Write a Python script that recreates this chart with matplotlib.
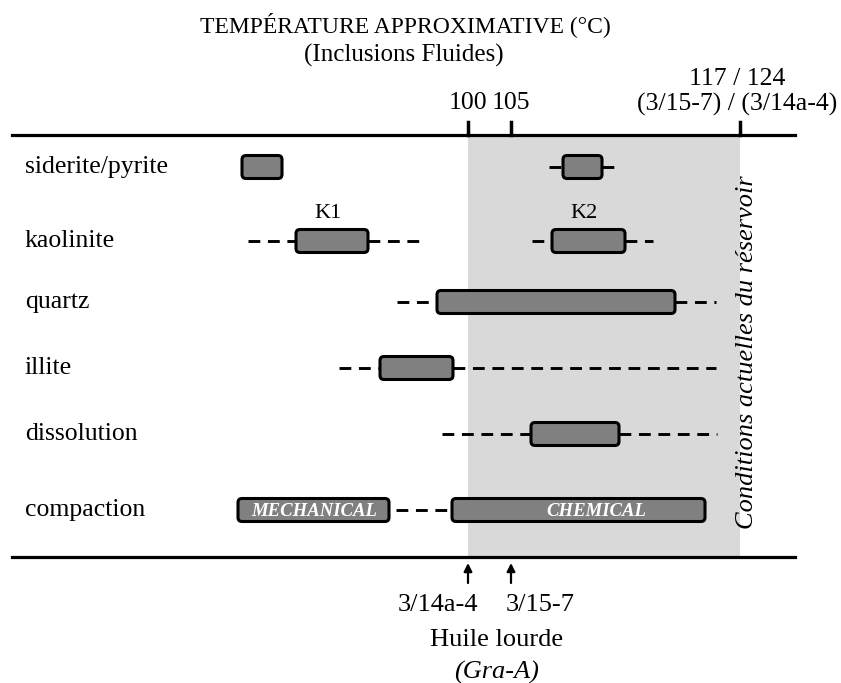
import matplotlib.pyplot as plt
from matplotlib.patches import FancyBboxPatch, Rectangle

plt.rcParams['font.family'] = ['Liberation Serif', 'DejaVu Serif']
plt.rcParams['lines.scale_dashes'] = False

# phases, top to bottom
phases = ['siderite/pyrite', 'kaolinite', 'quartz', 'illite', 'dissolution', 'compaction']
row_y = [167, 241, 302, 368, 434, 510]

# bars per phase: (start, end, dashed extent left, dashed extent right, inner label)
bars = {
    'siderite/pyrite': [(242, 282, None, None, ''), (563, 602, 549, 616, '')],
    'kaolinite': [(296, 368, 248, 425, ''), (552, 625, 532, 653, '')],
    'quartz': [(437, 675, 397, 716, '')],
    'illite': [(380, 453, 339, 716, '')],
    'dissolution': [(531, 619, 442, 717, '')],
    'compaction': [(238, 389, None, None, 'MECHANICAL'), (452, 705, 396, None, 'CHEMICAL')],
}
label_shift = {'MECHANICAL': 1, 'CHEMICAL': 18}
kaol_tags = ['K1', 'K2']

t_ticks = [468, 511, 740]          # 100, 105, 117/124
t_labels = ['100', '105']
wells = ['3/14a-4', '3/15-7']

x0, x1 = 12, 795
y_top, y_bot = 135, 557
bar_h = 23

fig = plt.figure(figsize=(8.41, 6.83), dpi=100)
ax = fig.add_axes([0, 0, 1, 1])
ax.set_xlim(0, 841)
ax.set_ylim(683, 0)
ax.axis('off')

# present-day reservoir window
ax.add_patch(Rectangle((t_ticks[0], y_top), t_ticks[2] - t_ticks[0], y_bot - y_top,
                       facecolor='#d9d9d9', edgecolor='none', zorder=0))
ax.plot([x0, x1], [y_top, y_top], color='black', lw=2.3, zorder=3)
ax.plot([x0, x1], [y_bot, y_bot], color='black', lw=2.3, zorder=3)
for tx in t_ticks:
    ax.plot([tx, tx], [y_top - 13, y_top], color='black', lw=2.5, zorder=3)

dash = dict(color='black', lw=2.1, linestyle=(0, (8.5, 5.5)), zorder=1)
for name, yc in zip(phases, row_y):
    ax.text(25, yc, name, fontsize=18.5, ha='left', va='center')
    for i, (s, e, l, r, lab) in enumerate(bars[name]):
        if l is not None:
            ax.plot([l, s], [yc, yc], **dash)
        if r is not None:
            ax.plot([e, r], [yc, yc], **dash)
        ax.add_patch(FancyBboxPatch((s, yc - bar_h / 2), e - s, bar_h,
                                    boxstyle='round,pad=0,rounding_size=4',
                                    facecolor='#808080', edgecolor='black',
                                    lw=2.2, zorder=2))
        if lab:
            ax.text((s + e) / 2 + label_shift[lab], yc + 1, lab, color='white', fontsize=13.5,
                    fontweight='bold', fontstyle='italic', ha='center', va='center', zorder=4)
        if name == 'kaolinite':
            ax.text((s + e) / 2 - 4, yc - 28, kaol_tags[i], fontsize=16, ha='center', va='center')

# temperature scale labels
ax.text(405, 25, 'TEMPÉRATURE APPROXIMATIVE (°C)', fontsize=17, ha='center', va='center')
ax.text(404, 55, '(Inclusions Fluides)', fontsize=18, ha='center', va='center')
ax.text(t_ticks[0], 103, t_labels[0], fontsize=18.5, ha='center', va='center')
ax.text(t_ticks[1], 103, t_labels[1], fontsize=18.5, ha='center', va='center')
ax.text(737, 79, '117 / 124', fontsize=18.5, ha='center', va='center')
ax.text(737, 104, '(3/15-7) / (3/14a-4)', fontsize=18.5, ha='center', va='center')

ax.text(747, 352, 'Conditions actuelles du réservoir', fontsize=19, fontstyle='italic',
        rotation=90, ha='center', va='center')

# oil inclusion wells
for tx in t_ticks[:2]:
    ax.annotate('', xy=(tx, 563), xytext=(tx, 583),
                arrowprops=dict(arrowstyle='-|>', color='black', lw=1.6,
                                mutation_scale=12, shrinkA=0, shrinkB=0))
ax.text(438, 605, wells[0], fontsize=19, ha='center', va='center')
ax.text(540, 605, wells[1], fontsize=19, ha='center', va='center')
ax.text(497, 640, 'Huile lourde', fontsize=19, ha='center', va='center')
ax.text(497, 672, '(Gra-A)', fontsize=19, fontstyle='italic', ha='center', va='center')

fig.savefig('out.png', dpi=100)
